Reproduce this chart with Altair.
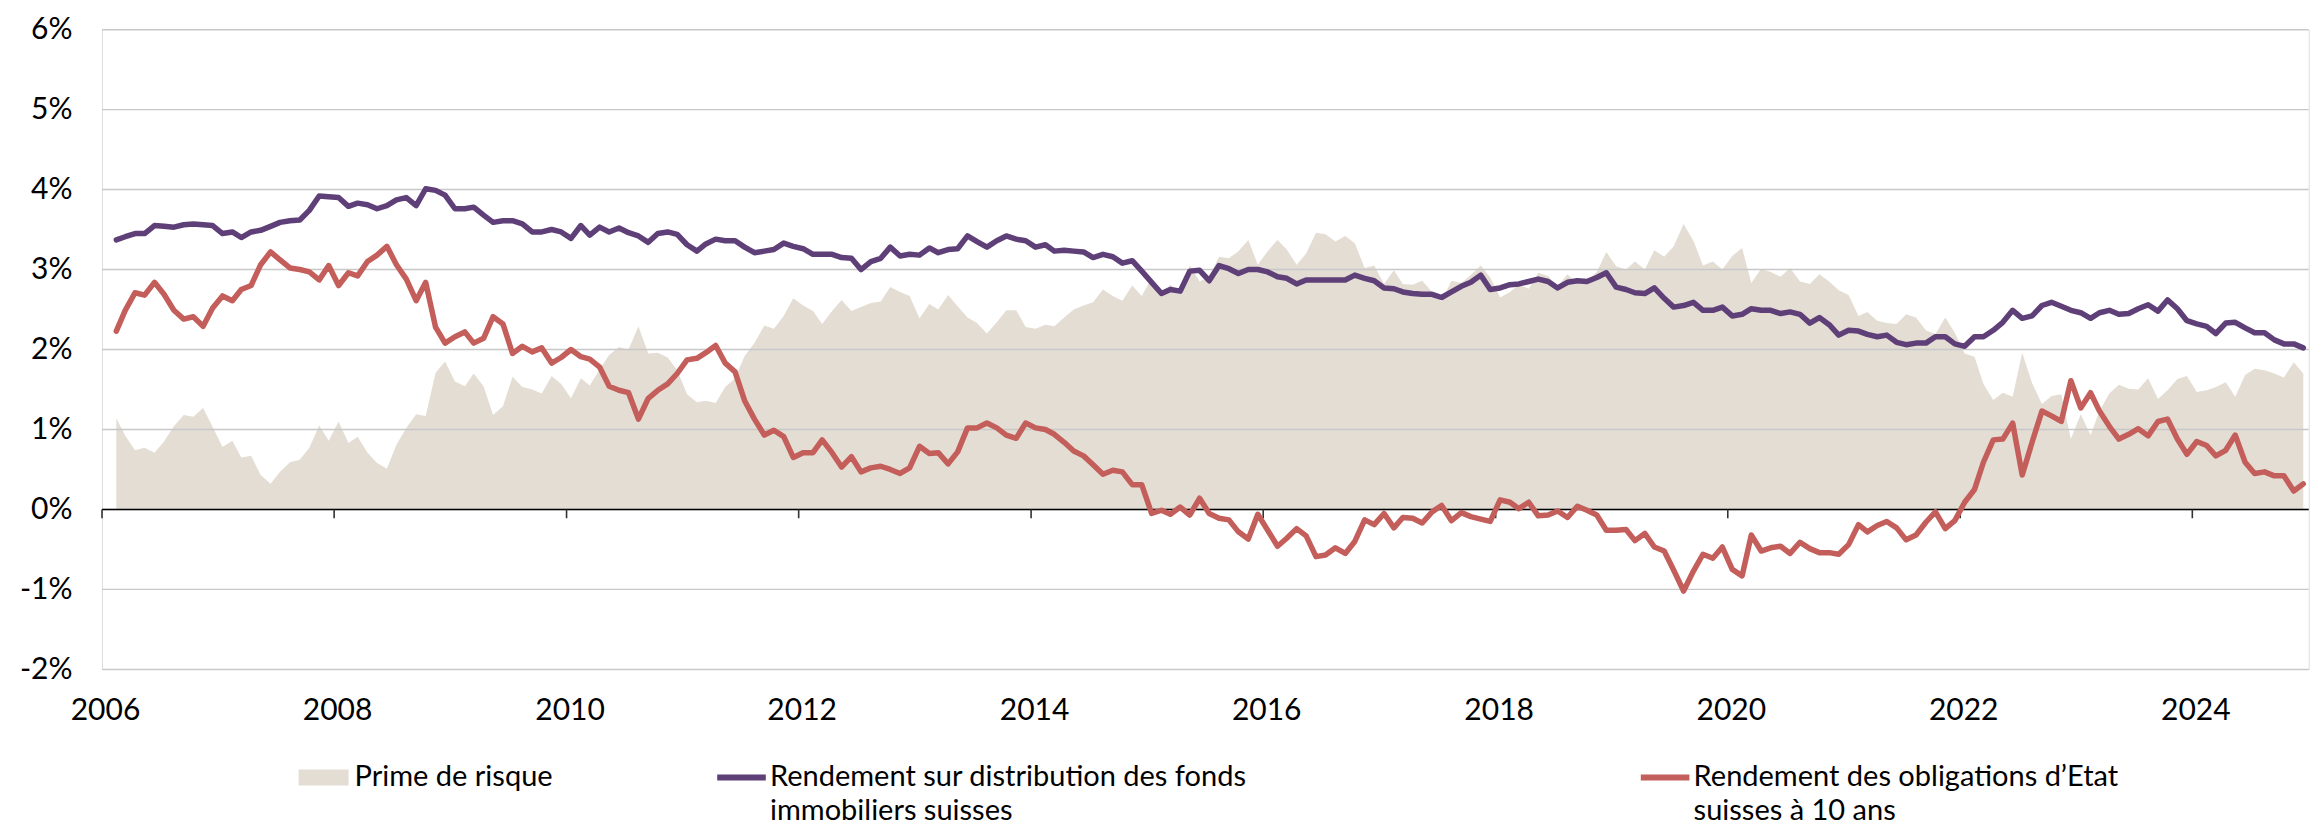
import altair as alt
import pandas as pd

# ---------------- data (monthly, Feb 2006 .. Dec 2024, in %) ----------------
FIRST_MONTH = "2006-02-01"

FUND_YIELD = [
    3.37, 3.41, 3.45, 3.45, 3.55, 3.54, 3.53, 3.56, 3.57, 3.56, 3.55, 3.45,
    3.47, 3.40, 3.47, 3.49, 3.54, 3.59, 3.61, 3.62, 3.74, 3.92, 3.91, 3.90,
    3.79, 3.83, 3.81, 3.76, 3.80, 3.87, 3.90, 3.80, 4.01, 3.99, 3.93, 3.76,
    3.76, 3.78, 3.68, 3.59, 3.61, 3.61, 3.57, 3.47, 3.47, 3.50, 3.47, 3.39,
    3.55, 3.43, 3.53, 3.47, 3.52, 3.46, 3.42, 3.34, 3.45, 3.47, 3.44, 3.31,
    3.23, 3.32, 3.38, 3.36, 3.36, 3.28, 3.21, 3.23, 3.25, 3.33, 3.29, 3.26,
    3.19, 3.19, 3.19, 3.15, 3.14, 3.00, 3.10, 3.14, 3.28, 3.17, 3.19, 3.18,
    3.27, 3.21, 3.25, 3.26, 3.42, 3.35, 3.28, 3.36, 3.42, 3.38, 3.36, 3.28,
    3.31, 3.23, 3.24, 3.23, 3.22, 3.15, 3.19, 3.16, 3.08, 3.11, 2.98, 2.84,
    2.70, 2.75, 2.73, 2.98, 2.99, 2.86, 3.05, 3.01, 2.95, 3.00, 3.00, 2.97,
    2.91, 2.89, 2.82, 2.87, 2.87, 2.87, 2.87, 2.87, 2.93, 2.89, 2.86, 2.77,
    2.76, 2.72, 2.70, 2.69, 2.69, 2.65, 2.72, 2.79, 2.84, 2.93, 2.75, 2.77,
    2.81, 2.82, 2.85, 2.88, 2.85, 2.77, 2.84, 2.86, 2.85, 2.90, 2.96, 2.78,
    2.75, 2.71, 2.70, 2.77, 2.64, 2.53, 2.55, 2.59, 2.49, 2.49, 2.53, 2.42,
    2.44, 2.51, 2.49, 2.49, 2.45, 2.47, 2.44, 2.33, 2.40, 2.31, 2.18, 2.24,
    2.23, 2.19, 2.16, 2.18, 2.09, 2.06, 2.08, 2.08, 2.16, 2.16, 2.07, 2.04,
    2.16, 2.16, 2.24, 2.34, 2.49, 2.39, 2.42, 2.55, 2.59, 2.54, 2.49, 2.46,
    2.39, 2.46, 2.49, 2.44, 2.45, 2.51, 2.56, 2.48, 2.62, 2.51, 2.36, 2.32,
    2.29, 2.20, 2.33, 2.34, 2.27, 2.21, 2.21, 2.12, 2.07, 2.07, 2.02,
]

BOND_YIELD = [
    2.23, 2.49, 2.71, 2.68, 2.84, 2.69, 2.49, 2.38, 2.41, 2.29, 2.52, 2.67,
    2.61, 2.75, 2.80, 3.06, 3.22, 3.12, 3.02, 3.00, 2.97, 2.87, 3.05, 2.80,
    2.96, 2.92, 3.10, 3.18, 3.29, 3.06, 2.88, 2.61, 2.84, 2.28, 2.08, 2.16,
    2.22, 2.08, 2.14, 2.41, 2.32, 1.95, 2.04, 1.97, 2.02, 1.83, 1.90, 2.00,
    1.91, 1.88, 1.78, 1.54, 1.49, 1.46, 1.13, 1.39, 1.49, 1.57, 1.70, 1.87,
    1.89, 1.96, 2.05, 1.83, 1.72, 1.36, 1.13, 0.93, 0.99, 0.91, 0.65, 0.71,
    0.71, 0.87, 0.71, 0.53, 0.66, 0.47, 0.52, 0.54, 0.50, 0.45, 0.52, 0.79,
    0.70, 0.71, 0.57, 0.72, 1.02, 1.02, 1.08, 1.02, 0.93, 0.89, 1.08, 1.02,
    1.00, 0.94, 0.84, 0.73, 0.67, 0.56, 0.44, 0.49, 0.47, 0.31, 0.31, -0.05,
    -0.01, -0.06, 0.03, -0.07, 0.14, -0.05, -0.11, -0.13, -0.28, -0.37, -0.06, -0.26,
    -0.46, -0.36, -0.24, -0.33, -0.59, -0.57, -0.48, -0.55, -0.40, -0.13, -0.19, -0.05,
    -0.23, -0.10, -0.11, -0.17, -0.03, 0.05, -0.14, -0.04, -0.09, -0.12, -0.15, 0.12,
    0.09, 0.01, 0.09, -0.08, -0.07, -0.02, -0.10, 0.04, -0.01, -0.07, -0.26, -0.26,
    -0.25, -0.39, -0.30, -0.47, -0.52, -0.76, -1.02, -0.77, -0.56, -0.61, -0.47, -0.75,
    -0.83, -0.32, -0.52, -0.48, -0.46, -0.55, -0.41, -0.49, -0.54, -0.54, -0.56, -0.44,
    -0.19, -0.28, -0.20, -0.15, -0.23, -0.38, -0.32, -0.16, -0.03, -0.24, -0.14, 0.09,
    0.25, 0.59, 0.87, 0.88, 1.08, 0.43, 0.84, 1.23, 1.17, 1.10, 1.61, 1.27,
    1.46, 1.23, 1.04, 0.88, 0.94, 1.01, 0.92, 1.10, 1.13, 0.88, 0.69, 0.85,
    0.80, 0.67, 0.74, 0.93, 0.59, 0.45, 0.47, 0.42, 0.42, 0.23, 0.32,
]

Y_TICKS = [-2, -1, 0, 1, 2, 3, 4, 5, 6]
X_TICK_YEARS = [2006, 2008, 2010, 2012, 2014, 2016, 2018, 2020, 2022, 2024]

LBL_PREMIUM = "Prime de risque"
LBL_FUND = "Rendement sur distribution des fonds|immobiliers suisses"
LBL_BOND = "Rendement des obligations d\u2019Etat|suisses \u00e0 10 ans"

# ---------------- style ----------------
BEIGE = "#e4ddd4"
PURPLE = "#5e3f77"
RED = "#c35e5b"
GRID = "#c8c8c8"
FONT = "Lato"
AXIS_FS = 30
LEG_FS = 29
LINE_W = 5.5

W = 2206.7
H = 639.8

# ---------------- tables ----------------
dates = pd.date_range(FIRST_MONTH, periods=len(FUND_YIELD), freq="MS") + pd.Timedelta(days=14)
df = pd.DataFrame({
    "date": dates,
    "fund": FUND_YIELD,
    "bond": BOND_YIELD,
    "s_prem": LBL_PREMIUM,
    "s_fund": LBL_FUND,
    "s_bond": LBL_BOND,
})
ticks_df = pd.DataFrame({"t": pd.to_datetime([f"{y}-01-01" for y in X_TICK_YEARS])})
grid_df = pd.DataFrame({"v": Y_TICKS})
zero_df = pd.DataFrame({"v": [0]})

x_scale = alt.Scale(domain=[alt.DateTime(year=2006, month=1, date=1),
                            alt.DateTime(year=2025, month=1, date=1)])
y_scale = alt.Scale(domain=[-2, 6], nice=False, zero=False)

x_axis = alt.Axis(
    values=[alt.DateTime(year=y, month=1, date=1) for y in X_TICK_YEARS],
    format="%Y", domain=False, ticks=False, tickSize=0, grid=False,
    labelPadding=26, labelFont=FONT, labelFontSize=AXIS_FS, labelColor="#000000",
    labelOffset=3, labelFlush=False, labelOverlap=False, title=None,
)
y_axis = alt.Axis(
    values=Y_TICKS, labelExpr="datum.value + '%'", domain=False, ticks=False,
    tickSize=0, grid=False, labelPadding=30, labelFont=FONT,
    labelFontSize=AXIS_FS, labelColor="#000000", labelOverlap=False, title=None,
)


def legend(lx, ly, **kw):
    return alt.Legend(
        orient="none", legendX=lx, legendY=ly, title=None, padding=0,
        labelFont=FONT, labelFontSize=LEG_FS, labelColor="#000000",
        labelLimit=2000, labelExpr="split(datum.label, '|')", **kw,
    )


X = alt.X("date:T", scale=x_scale, axis=x_axis, title=None)

base = alt.Chart(df)

area = base.transform_calculate(
    premium="datum.fund - datum.bond"
).mark_area(opacity=1).encode(
    x=X,
    y=alt.Y("premium:Q", scale=y_scale, axis=y_axis, title=None),
    fill=alt.Fill(
        "s_prem:N",
        scale=alt.Scale(domain=[LBL_PREMIUM], range=[BEIGE]),
        legend=legend(196.6, 722.8, symbolType="M-1,-0.32H1V0.32H-1Z",
                      symbolSize=2500, symbolStrokeWidth=0, symbolOpacity=1,
                      labelOffset=6),
    ),
)

grid = alt.Chart(grid_df).mark_rule(color=GRID, strokeWidth=1.4).encode(
    y=alt.Y("v:Q", scale=y_scale, title=None)
)

zero_line = alt.Chart(zero_df).mark_rule(color="#000000", strokeWidth=1.6).encode(
    y=alt.Y("v:Q", scale=y_scale, title=None)
)

year_ticks = alt.Chart(ticks_df).mark_rule(color="#333333", strokeWidth=1.6).encode(
    x=alt.X("t:T", scale=x_scale, title=None),
    y=alt.datum(0),
    y2=alt.datum(-0.11),
)

fund_line = base.mark_line(strokeWidth=LINE_W, strokeJoin="round", strokeCap="round").encode(
    x=X,
    y=alt.Y("fund:Q", scale=y_scale, title=None),
    stroke=alt.Stroke(
        "s_fund:N",
        scale=alt.Scale(domain=[LBL_FUND], range=[PURPLE]),
        legend=legend(612, 720.3, symbolType="stroke", symbolSize=2362,
                      symbolStrokeWidth=6, labelOffset=1),
    ),
)

bond_line = base.mark_line(strokeWidth=LINE_W, strokeJoin="round", strokeCap="round").encode(
    x=X,
    y=alt.Y("bond:Q", scale=y_scale, title=None),
    color=alt.Color(
        "s_bond:N",
        scale=alt.Scale(domain=[LBL_BOND], range=[RED]),
        legend=legend(1535.6, 720.3, symbolType="stroke", symbolSize=2362,
                      symbolStrokeWidth=6, labelOffset=1),
    ),
)

chart = alt.layer(
    area, grid, zero_line, year_ticks, fund_line, bond_line
).properties(
    width=W,
    height=H,
    autosize=alt.AutoSizeParams(type="none"),
    padding={"left": 94, "top": 21.6, "right": 1.3, "bottom": 158.6},
    background="white",
).configure_view(
    stroke=None
).configure(
    style={"guide-label": {"lineHeight": 34}}
)

chart.save("out.html", embed_options={"renderer": "svg", "actions": False})
